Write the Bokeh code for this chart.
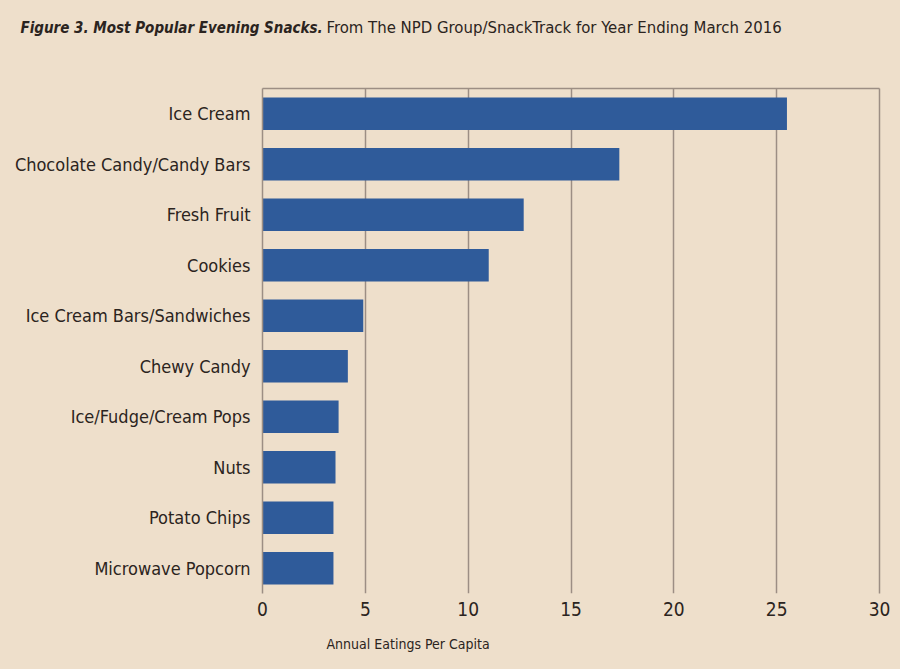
from bokeh.plotting import figure
from bokeh.models import FactorRange, Range1d, LinearAxis, CategoricalAxis, Label, FixedTicker, Title
from bokeh.layouts import column
from bokeh.embed import file_html
from bokeh.resources import INLINE

categories = ["Ice Cream", "Chocolate Candy/Candy Bars", "Fresh Fruit", "Cookies",
              "Ice Cream Bars/Sandwiches", "Chewy Candy", "Ice/Fudge/Cream Pops",
              "Nuts", "Potato Chips", "Microwave Popcorn"]
values = [25.5, 17.35, 12.7, 11.0, 4.9, 4.15, 3.7, 3.55, 3.45, 3.45]
x_ticks = [0, 5, 10, 15, 20, 25, 30]

title_bold = "Figure 3. Most Popular Evening Snacks."
title_rest = "From The NPD Group/SnackTrack for Year Ending March 2016"
x_label = "Annual Eatings Per Capita"

BG = "#EEDFCB"
BAR = "#2F5B9A"
GRID = "#9C8E84"
TXT = "#2B2420"
FONT = "DejaVu Sans Condensed"

TH = 56  # height of the title strip

# --- title strip ---
t = figure(width=900, height=TH, output_backend="svg", toolbar_location=None,
           x_range=Range1d(0, 1), y_range=Range1d(0, 1),
           x_axis_type=None, y_axis_type=None, min_border=0, frame_align=False)
t.background_fill_color = BG
t.border_fill_color = BG
t.outline_line_color = None
t.grid.visible = False
t.add_layout(Label(x=20, y=TH - 27, x_units="screen", y_units="screen", text=title_bold,
                   text_font=FONT, text_font_style="bold italic", text_font_size="15px",
                   text_color=TXT, text_baseline="middle"))
t.add_layout(Label(x=326, y=TH - 27, x_units="screen", y_units="screen", text=title_rest,
                   text_font=FONT, text_font_size="16.6px",
                   text_color=TXT, text_baseline="middle"))

# --- chart ---
p = figure(width=900, height=669 - TH, output_backend="svg", toolbar_location=None,
           y_range=FactorRange(factors=list(reversed(categories))),
           x_range=Range1d(0, 30),
           min_border_left=262, min_border_right=21, min_border_top=88 - TH, min_border_bottom=76,
           frame_align=False)
p.background_fill_color = BG
p.border_fill_color = BG
p.outline_line_color = None

p.hbar(y=categories, right=values, left=0, height=0.64, fill_color=BAR, line_color=None)

p.xaxis.ticker = FixedTicker(ticks=x_ticks)
p.xaxis.axis_line_color = None
p.xaxis.major_tick_line_color = None
p.xaxis.minor_tick_line_color = None
p.xaxis.major_label_text_font = FONT
p.xaxis.major_label_text_font_size = "19px"
p.xaxis.major_label_text_color = TXT
p.xaxis.major_label_standoff = 2

p.yaxis.axis_line_color = GRID
p.yaxis.axis_line_width = 1.5
p.yaxis.major_tick_line_color = None
p.yaxis.minor_tick_line_color = None
p.yaxis.major_label_text_font = FONT
p.yaxis.major_label_text_font_size = "18px"
p.yaxis.major_label_text_color = TXT
p.yaxis.major_label_standoff = 6

top_axis = LinearAxis(ticker=FixedTicker(ticks=[]), axis_line_color=GRID, axis_line_width=1.5,
                      major_tick_line_color=None, minor_tick_line_color=None,
                      major_label_text_font_size="0px")
p.add_layout(top_axis, "above")

right_axis = CategoricalAxis(axis_line_color=GRID, axis_line_width=1.5,
                             major_tick_line_color=None, minor_tick_line_color=None,
                             major_label_text_font_size="0px", major_label_standoff=0)
p.add_layout(right_axis, "right")

p.xgrid.ticker = FixedTicker(ticks=x_ticks)
p.xgrid.grid_line_color = GRID
p.xgrid.grid_line_width = 1.5
p.ygrid.grid_line_color = None

p.add_layout(Title(text=x_label, align="left", offset=64, standoff=31,
                   text_font=FONT, text_font_size="14px", text_font_style="normal",
                   text_color=TXT), "below")

layout = column(t, p, spacing=0, styles={"background-color": BG})
open("out.html", "w").write(file_html(layout, INLINE))
